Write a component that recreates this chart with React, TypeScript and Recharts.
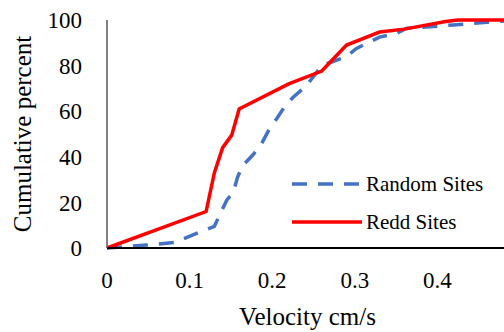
import { LineChart, Line, XAxis, YAxis, Legend } from "recharts";

// velocity (cm/s) vs cumulative percent
const randomSites = [
  { x: 0, y: 0 },
  { x: 0.048, y: 1.3 },
  { x: 0.082, y: 2.4 },
  { x: 0.112, y: 7 },
  { x: 0.13, y: 9.5 },
  { x: 0.137, y: 15 },
  { x: 0.145, y: 21 },
  { x: 0.153, y: 24.5 },
  { x: 0.158, y: 31 },
  { x: 0.164, y: 36 },
  { x: 0.177, y: 41 },
  { x: 0.186, y: 45 },
  { x: 0.197, y: 52.5 },
  { x: 0.206, y: 57 },
  { x: 0.215, y: 62 },
  { x: 0.225, y: 66 },
  { x: 0.241, y: 71 },
  { x: 0.26, y: 80 },
  { x: 0.29, y: 84 },
  { x: 0.302, y: 87.5 },
  { x: 0.33, y: 92.5 },
  { x: 0.35, y: 94 },
  { x: 0.362, y: 96.3 },
  { x: 0.419, y: 97.8 },
  { x: 0.46, y: 99 },
  { x: 0.5, y: 100 },
];

const reddSites = [
  { x: 0, y: 0 },
  { x: 0.12, y: 16 },
  { x: 0.13, y: 33 },
  { x: 0.14, y: 44 },
  { x: 0.151, y: 49.5 },
  { x: 0.16, y: 61 },
  { x: 0.22, y: 72 },
  { x: 0.26, y: 77.6 },
  { x: 0.29, y: 89 },
  { x: 0.33, y: 94.7 },
  { x: 0.36, y: 96 },
  { x: 0.41, y: 99.3 },
  { x: 0.425, y: 100 },
  { x: 0.5, y: 100 },
];

const xTicks = [0, 0.1, 0.2, 0.3, 0.4];
const yTicks = [0, 20, 40, 60, 80, 100];

const FONT = '"Liberation Serif", "Times New Roman", serif';
const BLUE = "#4472C4";
const RED = "#FF0000";
const DASH = "15 11";

const legendItems = [
  { name: "Random Sites", color: BLUE, dash: DASH },
  { name: "Redd Sites", color: RED, dash: undefined },
];

// zero-height box so the legend doesn't eat into the plot area
const renderLegend = () => (
  <div style={{ height: 0, overflow: "visible" }}>
    <div style={{ fontFamily: FONT, fontSize: 21, color: "#000" }}>
      {legendItems.map((item) => (
        <div
          key={item.name}
          style={{ display: "flex", alignItems: "center", height: 38 }}
        >
          <svg width={76} height={10} style={{ flex: "none" }}>
            <line
              x1={2}
              y1={5}
              x2={72}
              y2={5}
              stroke={item.color}
              strokeWidth={3.5}
              strokeDasharray={item.dash}
            />
          </svg>
          <span style={{ whiteSpace: "nowrap" }}>{item.name}</span>
        </div>
      ))}
    </div>
  </div>
);

export default function App() {
  return (
    <div
      style={{
        position: "absolute",
        left: 0,
        top: 0,
        width: 504,
        height: 332,
        overflow: "hidden",
        background: "#fff",
      }}
    >
      <LineChart
        width={540}
        height={332}
        margin={{ top: 20, right: 20, bottom: 0, left: 0 }}
      >
        <XAxis
          type="number"
          dataKey="x"
          domain={[0, 0.5]}
          ticks={xTicks}
          interval={0}
          tickLine={false}
          tickSize={0}
          tickMargin={24}
          height={84}
          axisLine={{ stroke: "#000", strokeWidth: 2 }}
          tick={{ fill: "#000", fontSize: 23, fontFamily: FONT }}
          label={{
            value: "Velocity cm/s",
            position: "insideBottom",
            offset: 7,
            dx: -6,
            style: { fill: "#000", fontSize: 25, fontFamily: FONT },
          }}
        />
        <YAxis
          type="number"
          domain={[0, 100]}
          ticks={yTicks}
          interval={0}
          tickLine={false}
          tickSize={0}
          tickMargin={25}
          width={107}
          axisLine={{ stroke: "#595959", strokeWidth: 1.5 }}
          tick={{ fill: "#000", fontSize: 23, fontFamily: FONT }}
          label={{
            value: "Cumulative percent",
            angle: -90,
            position: "insideLeft",
            offset: 22,
            style: {
              fill: "#000",
              fontSize: 25,
              fontFamily: FONT,
              textAnchor: "middle",
            },
          }}
        />
        <Legend
          content={renderLegend}
          wrapperStyle={{ left: 290, top: 165, width: 220, height: 0 }}
        />
        <Line
          data={randomSites}
          dataKey="y"
          name="Random Sites"
          type="linear"
          stroke={BLUE}
          strokeWidth={3.5}
          strokeDasharray={DASH}
          dot={false}
          isAnimationActive={false}
        />
        <Line
          data={reddSites}
          dataKey="y"
          name="Redd Sites"
          type="linear"
          stroke={RED}
          strokeWidth={3.5}
          dot={false}
          isAnimationActive={false}
        />
      </LineChart>
    </div>
  );
}
